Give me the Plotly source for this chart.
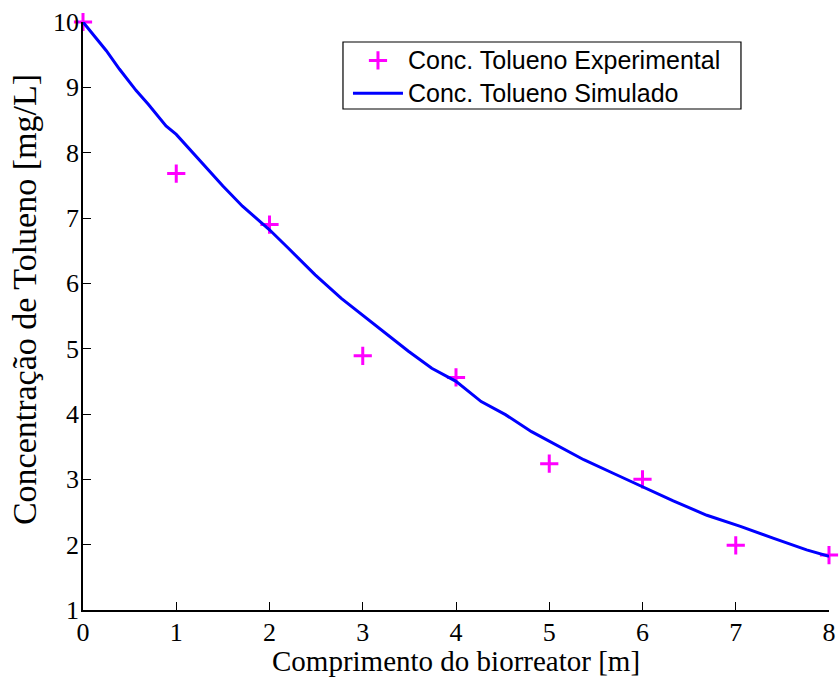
import plotly.graph_objects as go

# Experimental toluene concentration along the bioreactor
x_exp = [0, 1, 2, 3, 4, 5, 6, 7, 8]
c_exp = [10.0, 7.68, 6.90, 4.89, 4.56, 3.24, 3.00, 1.99, 1.84]

# Simulated profile
x_sim = [0, 0.25, 0.39, 0.57, 0.70, 0.89, 1.0, 1.21, 1.36, 1.5, 1.71, 2.0,
         2.20, 2.49, 2.77, 2.99, 3.20, 3.49, 3.74, 4.0, 4.27, 4.53, 4.81,
         5.0, 5.37, 5.72, 6.08, 6.33, 6.69, 7.05, 7.40, 7.76, 8.0]
c_sim = [10.0, 9.56, 9.28, 8.95, 8.74, 8.41, 8.28, 7.95, 7.72, 7.49, 7.18,
         6.82, 6.54, 6.13, 5.77, 5.52, 5.29, 4.96, 4.70, 4.50, 4.19, 3.99,
         3.73, 3.58, 3.30, 3.07, 2.83, 2.67, 2.45, 2.28, 2.10, 1.92, 1.82]

x_ticks = [0, 1, 2, 3, 4, 5, 6, 7, 8]
y_ticks = [1, 2, 3, 4, 5, 6, 7, 8, 9, 10]

name_exp = "Conc. Tolueno Experimental"
name_sim = "Conc. Tolueno Simulado"
x_title = "Comprimento do biorreator [m]"
y_title = "Concentração de Tolueno [mg/L]"

serif = "Liberation Serif, Times New Roman, serif"
sans = "Liberation Sans, Arial, sans-serif"
tick_font = dict(family=serif, size=26, color="black")


def legend_label(text):
    # glyph size set apart from the legend's own font size (which sets row spacing)
    return '<span style="font-size:25px">' + text + "</span>"


fig = go.Figure()
fig.add_trace(go.Scatter(
    x=x_exp, y=c_exp, mode="markers", name=legend_label(name_exp),
    marker=dict(symbol="cross-thin", size=13, color="#FF00FF",
                line=dict(color="#FF00FF", width=3)),
    cliponaxis=False,
))
fig.add_trace(go.Scatter(
    x=x_sim, y=c_sim, mode="lines", name=legend_label(name_sim),
    line=dict(color="#0000FF", width=3),
    cliponaxis=False,
))

fig.update_layout(
    width=839, height=680,
    margin=dict(l=83, r=10, t=22, b=70),
    paper_bgcolor="white", plot_bgcolor="white",
    showlegend=True,
    legend=dict(
        x=0.3552, y=0.9711, xanchor="left", yanchor="top",
        bgcolor="rgba(0,0,0,0)", borderwidth=0,
        font=dict(family=sans, size=23, color="black"),
        itemwidth=50,
    ),
    xaxis=dict(
        range=[0, 8], tickvals=x_ticks, ticktext=[str(v) for v in x_ticks],
        showgrid=False, zeroline=False, showline=True, linecolor="black", linewidth=1.5,
        ticks="inside", ticklen=8, tickcolor="black", tickwidth=1,
        tickfont=tick_font, automargin=False, ticklabelstandoff=-2,
    ),
    yaxis=dict(
        range=[1, 10], tickvals=y_ticks, ticktext=[str(v) for v in y_ticks],
        showgrid=False, zeroline=False, showline=True, linecolor="black", linewidth=1.5,
        ticks="inside", ticklen=8, tickcolor="black", tickwidth=1,
        tickfont=tick_font, automargin=False, ticklabelstandoff=-3,
    ),
    shapes=[
        # legend frame
        dict(type="rect", xref="paper", yref="paper",
             x0=0.3485, x1=0.882, y0=0.852, y1=0.966,
             line=dict(color="black", width=1.2), fillcolor="white", layer="below"),
    ],
    annotations=[
        dict(text=x_title, xref="paper", yref="paper", x=0.5, y=0,
             xanchor="center", yanchor="middle", yshift=-51, showarrow=False,
             font=dict(family=serif, size=29, color="black")),
        dict(text=y_title, xref="paper", yref="paper", x=0, y=0.527,
             xanchor="center", yanchor="middle", xshift=-59, textangle=-90,
             showarrow=False, font=dict(family=serif, size=34, color="black")),
    ],
)

fig.write_html("out.html")
